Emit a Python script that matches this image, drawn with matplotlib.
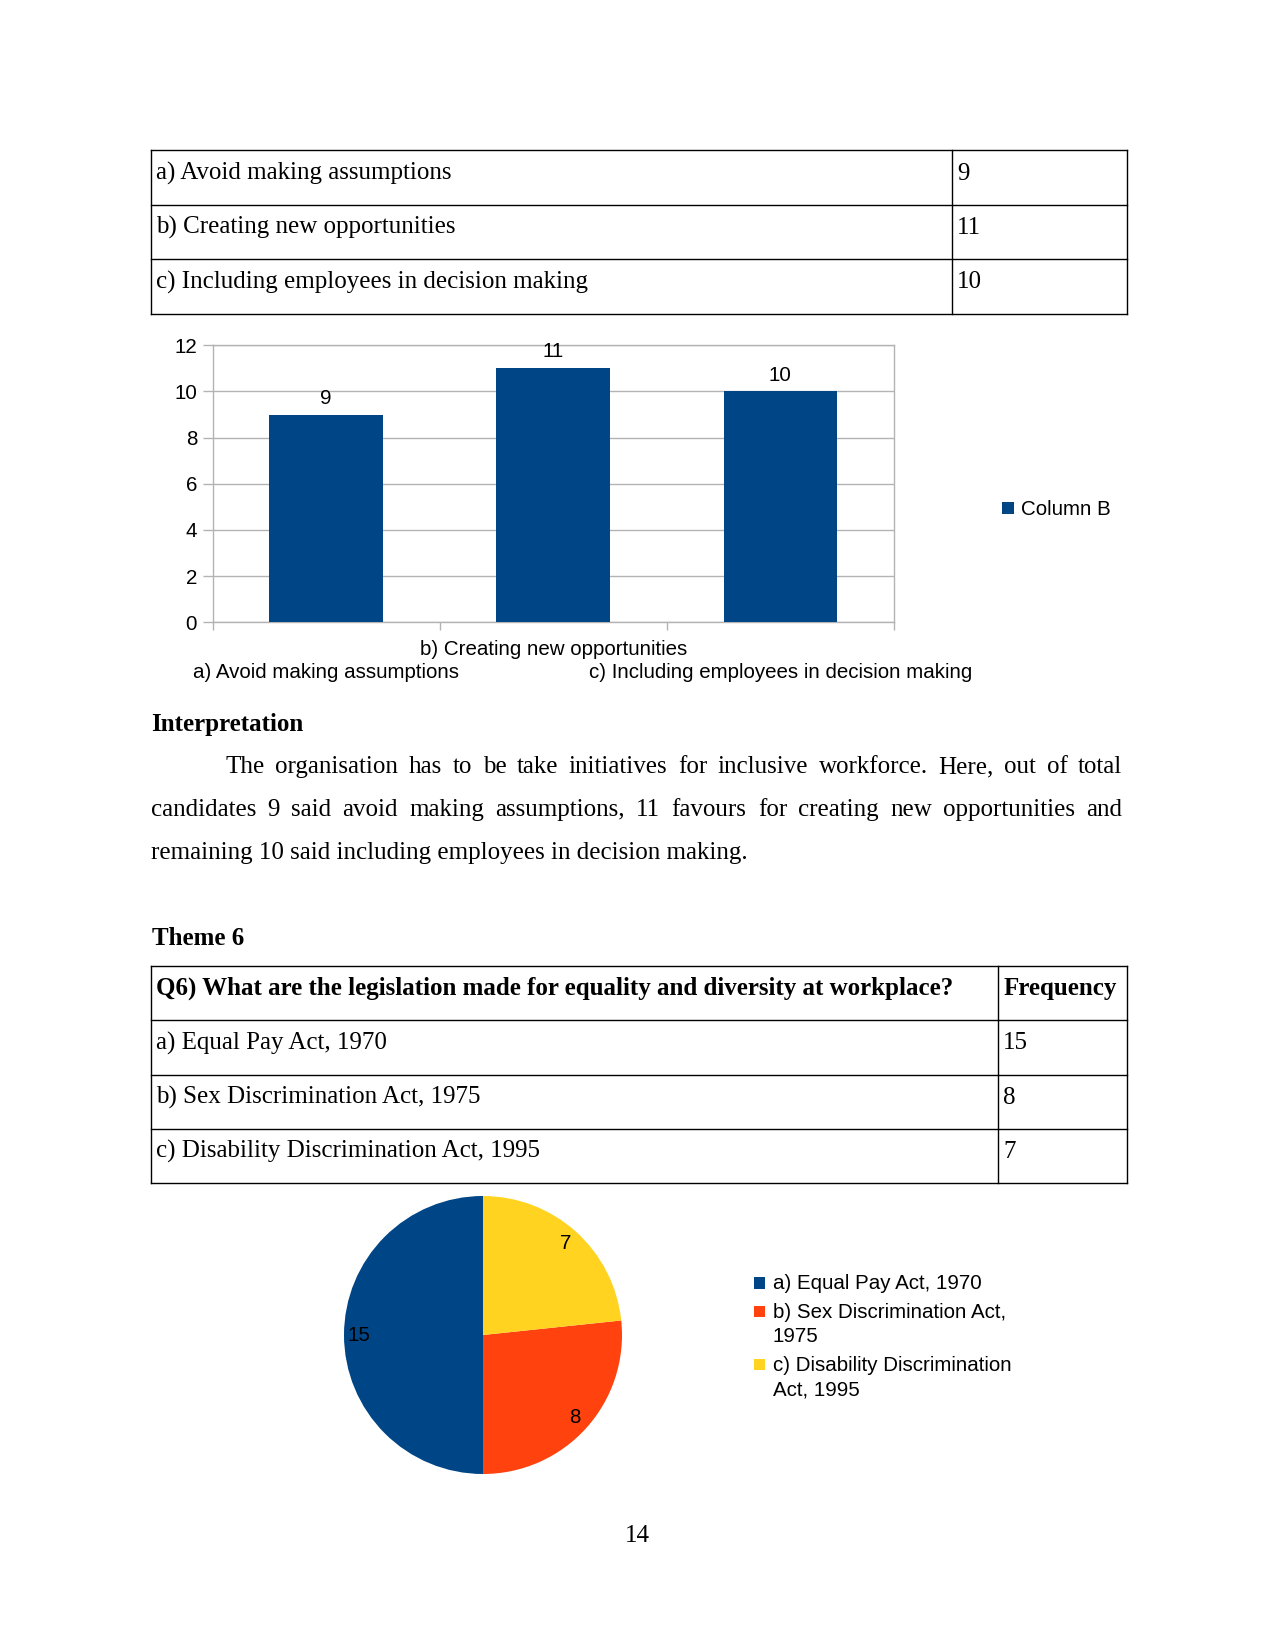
import numpy as np
import matplotlib.pyplot as plt
from matplotlib.patches import Rectangle

plt.rcParams['font.family'] = ['Liberation Sans', 'DejaVu Sans']
SERIF = ['Liberation Serif', 'DejaVu Serif']

W, H = 1275, 1651  # page size in px

# theme 5 (table + bar chart)
q5_options = ['a) Avoid making assumptions',
              'b) Creating new opportunities',
              'c) Including employees in decision making']
q5_counts = [9, 11, 10]
bar_series = 'Column B'

# theme 6 (table + pie chart)
q6_question = 'Q6) What are the legislation made for equality and diversity at workplace?'
q6_header = 'Frequency'
q6_options = ['a) Equal Pay Act, 1970',
              'b) Sex Discrimination Act, 1975',
              'c) Disability Discrimination Act, 1995']
q6_counts = [15, 8, 7]
q6_legend = ['a) Equal Pay Act, 1970',
             'b) Sex Discrimination Act,\n1975',
             'c) Disability Discrimination\nAct, 1995']

para_lines = [
    'The organisation has to be take initiatives for inclusive workforce. Here, out of total',
    'candidates 9 said avoid making assumptions, 11 favours for creating new opportunities and',
    'remaining 10 said including employees in decision making.',
]

bar_color = '#004586'
pie_colors = ['#004586', '#ff420e', '#ffd320']
grey = '#b3b3b3'

FS_DOC = 18      # serif body text
FS_CH = 14.8     # chart text


def frac(x, y, w, h):
    # px box (top-left origin) -> figure fraction
    return [x / W, 1 - (y + h) / H, w / W, h / H]


fig = plt.figure(figsize=(W / 100, H / 100), dpi=100)
fig.patch.set_facecolor('white')

# page layer in pixel coords
page = fig.add_axes([0, 0, 1, 1])
page.set_xlim(0, W)
page.set_ylim(H, 0)
page.axis('off')
renderer = fig.canvas.get_renderer()

ROW_H = 54.45
LEFT, RIGHT = 150.7, 1126.5


def draw_table(top, rows, mid, bold_first=False):
    ys = [top + i * ROW_H for i in range(len(rows) + 1)]
    for y in ys:
        page.plot([LEFT, RIGHT], [y, y], color='black', lw=1, solid_capstyle='projecting')
    for x in (LEFT, mid, RIGHT):
        page.plot([x, x], [ys[0], ys[-1]], color='black', lw=1, solid_capstyle='projecting')
    for i, (a, b) in enumerate(rows):
        fw = 'bold' if (bold_first and i == 0) else 'normal'
        page.text(LEFT + 5.3, ys[i] + 29, a, family=SERIF, fontsize=FS_DOC, fontweight=fw, va='baseline')
        page.text(mid + 5.3, ys[i] + 29, str(b), family=SERIF, fontsize=FS_DOC, fontweight=fw, va='baseline')


draw_table(150.5, list(zip(q5_options, q5_counts)), 951.5)

# bar chart
axb = fig.add_axes(frac(212.5, 345.3, 681.5, 277))
xpos = np.arange(1, len(q5_counts) + 1)
bars = axb.bar(xpos, q5_counts, width=0.5, color=bar_color, zorder=3)
axb.set_xlim(0.5, len(q5_counts) + 0.5)
axb.set_ylim(0, 12)
axb.set_yticks(range(0, 13, 2))
axb.set_xticks(np.arange(0.5, len(q5_counts) + 1, 1), [''] * (len(q5_counts) + 1))
axb.tick_params(axis='y', length=7.2, width=1, color=grey, labelsize=FS_CH, pad=3.9)
axb.tick_params(axis='x', length=5.8, width=1, color=grey)
axb.grid(axis='y', color=grey, lw=1)
axb.set_axisbelow(True)
for s in axb.spines.values():
    s.set_color(grey)
    s.set_linewidth(1)
axb.bar_label(bars, padding=5.0, fontsize=FS_CH)
for i, lab in enumerate(q5_options):
    off = 33 if i % 2 == 1 else 56
    axb.annotate(lab, xy=(xpos[i], 0), xycoords=('data', 'axes fraction'),
                 xytext=(0, -off), textcoords='offset pixels',
                 ha='center', va='baseline', fontsize=FS_CH)

# bar legend
page.add_patch(Rectangle((1002, 502.5), 12, 12, color=bar_color, lw=0))
page.text(1020.7, 515.3, bar_series, fontsize=FS_CH, va='baseline')

# interpretation
page.text(LEFT, 730.5, 'Interpretation', family=SERIF, fontsize=FS_DOC, fontweight='bold', va='baseline')


def justify(text, x0, x1, y):
    words = text.split()
    ts = [page.text(x0, y, w, family=SERIF, fontsize=FS_DOC, va='baseline') for w in words]
    widths = [t.get_window_extent(renderer).width for t in ts]
    gap = (x1 - x0 - sum(widths)) / (len(words) - 1)
    x = x0
    for t, w in zip(ts, widths):
        t.set_x(x)
        x += w + gap


justify(para_lines[0], 225.7, 1122.5, 773.2)
justify(para_lines[1], LEFT, 1122.5, 816.0)
page.text(LEFT, 858.8, para_lines[2], family=SERIF, fontsize=FS_DOC, va='baseline')

page.text(LEFT + 1, 944.8, 'Theme 6', family=SERIF, fontsize=FS_DOC, fontweight='bold', va='baseline')

draw_table(965.7, [(q6_question, q6_header)] + list(zip(q6_options, q6_counts)), 998, bold_first=True)

# pie chart
axp = fig.add_axes(frac(344, 1196, 278, 278))
total = sum(q6_counts)
axp.pie(q6_counts, colors=pie_colors, startangle=90, counterclock=True,
        autopct=lambda p: f'{p * total / 100:.0f}', pctdistance=0.89,
        textprops={'fontsize': FS_CH}, wedgeprops={'linewidth': 0})
axp.set_xlim(-1, 1)
axp.set_ylim(-1, 1)

# pie legend
y = 1289.3
for lab, col in zip(q6_legend, pie_colors):
    page.add_patch(Rectangle((754, y - 12), 11.4, 11.4, color=col, lw=0))
    lines = lab.split('\n')
    for k, line in enumerate(lines):
        page.text(772.7, y + k * 24.3, line, fontsize=FS_CH, va='baseline')
    y += 24.3 * len(lines) + 4.3

# page number
page.text(637.7, 1541.5, '14', family=SERIF, fontsize=FS_DOC, ha='center', va='baseline')

fig.savefig('out.png', dpi=100, facecolor='white')
